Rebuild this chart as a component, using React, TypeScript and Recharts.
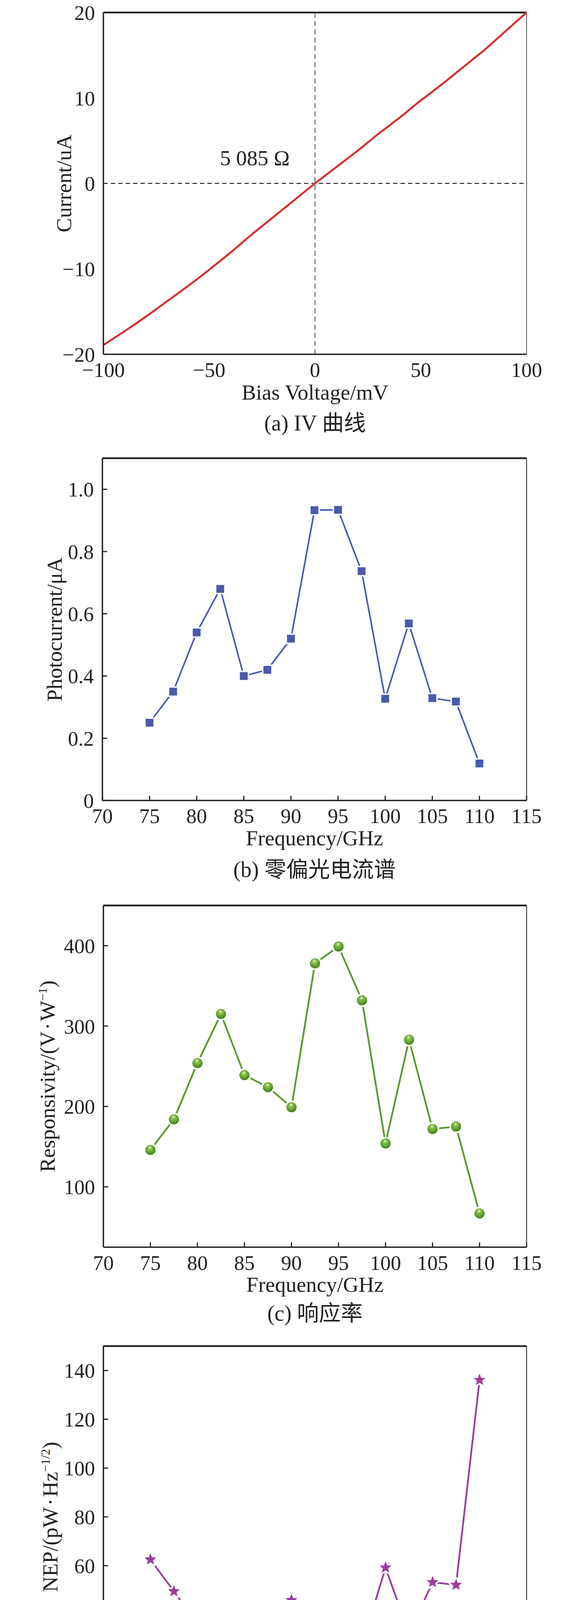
import React from "react";
import { LineChart, Line, XAxis, YAxis, ReferenceLine, ReferenceDot } from "recharts";

// (a) IV curve, every 10 mV
const biasVoltage = [-100, -90, -80, -70, -60, -50, -40, -30, -20, -10, 0, 10, 20, 30, 40, 50, 60, 70, 80, 90, 100];
const current = [-18.9, -17.3, -15.6, -13.8, -12.0, -10.1, -8.1, -6.0, -4.0, -2.0, 0, 1.9, 3.8, 5.8, 7.7, 9.7, 11.6, 13.6, 15.6, 17.8, 20.0];
const ivTicksX = [-100, -50, 0, 50, 100];
const ivTicksY = [-20, -10, 0, 10, 20];

// (b)-(d) frequency sweeps
const frequency = [75, 77.5, 80, 82.5, 85, 87.5, 90, 92.5, 95, 97.5, 100, 102.5, 105, 107.5, 110];
const photocurrent = [0.25, 0.35, 0.54, 0.68, 0.4, 0.42, 0.52, 0.933, 0.934, 0.737, 0.327, 0.569, 0.329, 0.318, 0.119];
const responsivity = [146, 184, 254, 315, 239, 224, 199, 378, 399, 332, 154, 283, 172, 175, 67];
const nep = [62.5, 49.5, 35.9, 28.7, 38.2, 40.7, 45.9, 24.1, 22.5, 27.4, 59.2, 32.1, 53.2, 52.1, 136.1];
const freqTicks = [70, 75, 80, 85, 90, 95, 100, 105, 110, 115];
const photoTicks = [0, 0.2, 0.4, 0.6, 0.8, 1.0];
const respTicks = [100, 200, 300, 400];
const nepTicks = [20, 40, 60, 80, 100, 120, 140];

const captions = ["(a) IV 曲线", "(b) 零偏光电流谱", "(c) 响应率", "(d) 噪声等效功率"];

const ivData = biasVoltage.map((v, i) => ({ v, i: current[i] }));
const specData = frequency.map((f, i) => ({ f, pc: photocurrent[i], r: responsivity[i], nep: nep[i] }));

const SERIF = "'Liberation Serif', 'Times New Roman', serif";
const CAPTION_FONT = "'Liberation Serif', 'Noto Sans CJK SC', serif";
const INK = "#231f20";
const RED = "#d9302e";
const BLUE = "#4a5aad";
const GREEN = "#5b9b2c";
const PURPLE = "#9b3e9c";

const W = 1476;
const H = 4532;
const PLOT_RIGHT = 1347;
const M_TOP = 40;
const X_AXIS_H = 150;
const Y_AXIS_W = 100;
const TICK_FS = 53;
const TITLE_FS = 55;

// plot boxes (page px) and text offsets
const layout = [
  { top: 31.7, bottom: 906.8, left: 264.5, yTitleX: 182, xTitleDy: 116, caption: 1101.7 },
  { top: 1173, bottom: 2049.3, left: 262, yTitleX: 158, xTitleDy: 114.7, caption: 2245 },
  { top: 2318, bottom: 3192.7, left: 264.5, yTitleX: 140, xTitleDy: 114.7, caption: 3381 },
  { top: 3446.3, bottom: 4320.7, left: 264.5, yTitleX: 147, xTitleDy: 116, caption: 4513 },
];
type Box = (typeof layout)[number];

const signed = (v: number) => (v < 0 ? `\u2212${Math.abs(v)}` : `${v}`);
const tickStyle = { fontSize: TICK_FS, fill: INK, fontFamily: SERIF };
const axisLine = { stroke: INK, strokeWidth: 3.5 };
const tickLine = { stroke: INK, strokeWidth: 3 };

const chartProps = (p: Box) => ({
  width: W,
  height: M_TOP + (p.bottom - p.top) + X_AXIS_H,
  margin: { top: M_TOP, right: W - PLOT_RIGHT, bottom: 0, left: p.left - Y_AXIS_W },
});

const yTitle = (p: Box, content: React.ReactNode) => () => {
  const cy = M_TOP + (p.bottom - p.top) / 2;
  return (
    <text x={p.yTitleX} y={cy} transform={`rotate(-90 ${p.yTitleX} ${cy})`} textAnchor="middle" fontFamily={SERIF} fontSize={TITLE_FS} fill={INK}>
      {content}
    </text>
  );
};

const xTitle = (p: Box, text: string) => () => (
  <text x={(p.left + PLOT_RIGHT) / 2} y={M_TOP + (p.bottom - p.top) + p.xTitleDy} textAnchor="middle" fontFamily={SERIF} fontSize={TITLE_FS} fill={INK}>
    {text}
  </text>
);

function starPath(cx: number, cy: number, R: number, r: number) {
  let d = "";
  for (let k = 0; k < 10; k++) {
    const a = -Math.PI / 2 + (k * Math.PI) / 5;
    const rad = k % 2 === 0 ? R : r;
    d += `${k === 0 ? "M" : "L"}${(cx + rad * Math.cos(a)).toFixed(2)},${(cy + rad * Math.sin(a)).toFixed(2)}`;
  }
  return d + "Z";
}

// markers leave a small white gap where the line meets them, as in the original
const SquareDot = (props: any) => {
  const { cx, cy, index } = props;
  return (
    <g key={`sq-${index}`}>
      <rect x={cx - 13.5} y={cy - 13.5} width={27} height={27} fill="#fff" />
      <rect x={cx - 10} y={cy - 10} width={20} height={20} fill={BLUE} />
    </g>
  );
};

const BallDot = (props: any) => {
  const { cx, cy, index } = props;
  return (
    <g key={`ball-${index}`}>
      <circle cx={cx} cy={cy} r={17} fill="#fff" />
      <circle cx={cx} cy={cy} r={13} fill="url(#greenBall)" />
    </g>
  );
};

const StarDot = (props: any) => {
  const { cx, cy, index } = props;
  const d = starPath(cx, cy, 16, 7);
  return (
    <g key={`star-${index}`}>
      <path d={d} fill="#fff" stroke="#fff" strokeWidth={8} strokeLinejoin="round" />
      <path d={d} fill={PURPLE} />
    </g>
  );
};

function Frame({ p, children }: { p: Box; children: React.ReactNode }) {
  return <div style={{ position: "absolute", left: 0, top: p.top - M_TOP }}>{children}</div>;
}

export default function App() {
  const [a, b, c, d] = layout;
  return (
    <div style={{ position: "relative", width: W, height: H, margin: -8, background: "#fff" }}>
      {/* (a) IV curve */}
      <Frame p={a}>
        <LineChart {...chartProps(a)} data={ivData}>
          <XAxis dataKey="v" type="number" domain={[-100, 100]} ticks={ivTicksX} interval={0} tickFormatter={signed}
            tick={tickStyle} tickLine={false} tickSize={0} tickMargin={20} axisLine={axisLine} height={X_AXIS_H}
            label={xTitle(a, "Bias Voltage/mV")} />
          <YAxis type="number" domain={[-20, 20]} ticks={ivTicksY} interval={0} tickFormatter={signed}
            tick={tickStyle} tickLine={false} tickSize={0} tickMargin={21.5} axisLine={axisLine} width={Y_AXIS_W}
            label={yTitle(a, "Current/uA")} />
          <ReferenceLine y={20} stroke={INK} strokeWidth={4.5} />
          <ReferenceLine x={100} stroke="#555" strokeWidth={2} />
          <ReferenceLine x={0} stroke="#333" strokeWidth={1.8} strokeDasharray="13 8" />
          <ReferenceLine y={0} stroke={INK} strokeWidth={2.5} strokeDasharray="11 8" />
          <ReferenceDot x={-28.4} y={3} r={0} fill="none" stroke="none"
            label={{ value: "5 085 \u03a9", position: "center", fontSize: TITLE_FS, fill: INK, fontFamily: SERIF }} />
          <Line type="monotone" dataKey="i" stroke={RED} strokeWidth={5} dot={false} isAnimationActive={false} />
        </LineChart>
      </Frame>

      {/* (b) zero-bias photocurrent */}
      <Frame p={b}>
        <LineChart {...chartProps(b)} data={specData}>
          <XAxis dataKey="f" type="number" domain={[70, 115]} ticks={freqTicks} interval={0}
            tick={tickStyle} tickLine={tickLine} tickSize={-12} tickMargin={32} axisLine={axisLine} height={X_AXIS_H}
            label={xTitle(b, "Frequency/GHz")} />
          <YAxis type="number" domain={[0, 1.1]} ticks={photoTicks} interval={0}
            tickFormatter={(v: number) => (v === 0 ? "0" : v.toFixed(1))}
            tick={tickStyle} tickLine={tickLine} tickSize={-12} tickMargin={34} axisLine={axisLine} width={Y_AXIS_W}
            label={yTitle(b, "Photocurrent/\u03bcA")} />
          <ReferenceLine y={1.1} stroke={INK} strokeWidth={4.5} />
          <ReferenceLine x={115} stroke="#444" strokeWidth={2.5} />
          <Line type="linear" dataKey="pc" stroke={BLUE} strokeWidth={4} dot={SquareDot} isAnimationActive={false} />
        </LineChart>
      </Frame>

      {/* (c) responsivity */}
      <Frame p={c}>
        <LineChart {...chartProps(c)} data={specData}>
          <defs>
            <radialGradient id="greenBall" cx="0.45" cy="0.4" r="0.6" fx="0.45" fy="0.25">
              <stop offset="0" stopColor="#eef8dc" />
              <stop offset="0.3" stopColor="#86c04c" />
              <stop offset="0.75" stopColor="#5b9b2c" />
              <stop offset="1" stopColor="#3e7818" />
            </radialGradient>
          </defs>
          <XAxis dataKey="f" type="number" domain={[70, 115]} ticks={freqTicks} interval={0}
            tick={tickStyle} tickLine={tickLine} tickSize={-12} tickMargin={32.5} axisLine={axisLine} height={X_AXIS_H}
            label={xTitle(c, "Frequency/GHz")} />
          <YAxis type="number" domain={[25, 450]} ticks={respTicks} interval={0}
            tick={tickStyle} tickLine={tickLine} tickSize={-12} tickMargin={33.5} axisLine={axisLine} width={Y_AXIS_W}
            label={yTitle(c, <>
              <tspan>Responsivity/(V</tspan>
              <tspan dx={4}>·</tspan>
              <tspan dx={4}>W</tspan>
              <tspan dy={-20} fontSize={32}>{"\u22121"}</tspan>
              <tspan dy={20}>)</tspan>
            </>)} />
          <ReferenceLine y={450} stroke={INK} strokeWidth={4.5} />
          <ReferenceLine x={115} stroke="#444" strokeWidth={2.5} />
          <Line type="linear" dataKey="r" stroke={GREEN} strokeWidth={4.5} dot={BallDot} isAnimationActive={false} />
        </LineChart>
      </Frame>

      {/* (d) noise equivalent power */}
      <Frame p={d}>
        <LineChart {...chartProps(d)} data={specData}>
          <XAxis dataKey="f" type="number" domain={[70, 115]} ticks={freqTicks} interval={0}
            tick={tickStyle} tickLine={false} tickSize={0} tickMargin={21.8} axisLine={axisLine} height={X_AXIS_H}
            label={xTitle(d, "Frequency/GHz")} />
          <YAxis type="number" domain={[10, 150]} ticks={nepTicks} interval={0}
            tick={tickStyle} tickLine={tickLine} tickSize={-12} tickMargin={33.5} axisLine={axisLine} width={Y_AXIS_W}
            label={yTitle(d, <>
              <tspan>NEP/(pW</tspan>
              <tspan dx={4}>·</tspan>
              <tspan dx={4}>Hz</tspan>
              <tspan dy={-20} fontSize={32}>{"\u22121/2"}</tspan>
              <tspan dy={20}>)</tspan>
            </>)} />
          <ReferenceLine y={150} stroke={INK} strokeWidth={4.5} />
          <ReferenceLine x={115} stroke="#444" strokeWidth={2.5} />
          <Line type="linear" dataKey="nep" stroke={PURPLE} strokeWidth={4.5} dot={StarDot} isAnimationActive={false} />
        </LineChart>
      </Frame>

      <svg width={W} height={H} style={{ position: "absolute", left: 0, top: 0, pointerEvents: "none" }}>
        {layout.map((p, k) => (
          <text key={k} x={(p.left + PLOT_RIGHT) / 2} y={p.caption} textAnchor="middle" fontFamily={CAPTION_FONT} fontSize={56} fill={INK}>
            {captions[k]}
          </text>
        ))}
      </svg>
    </div>
  );
}
